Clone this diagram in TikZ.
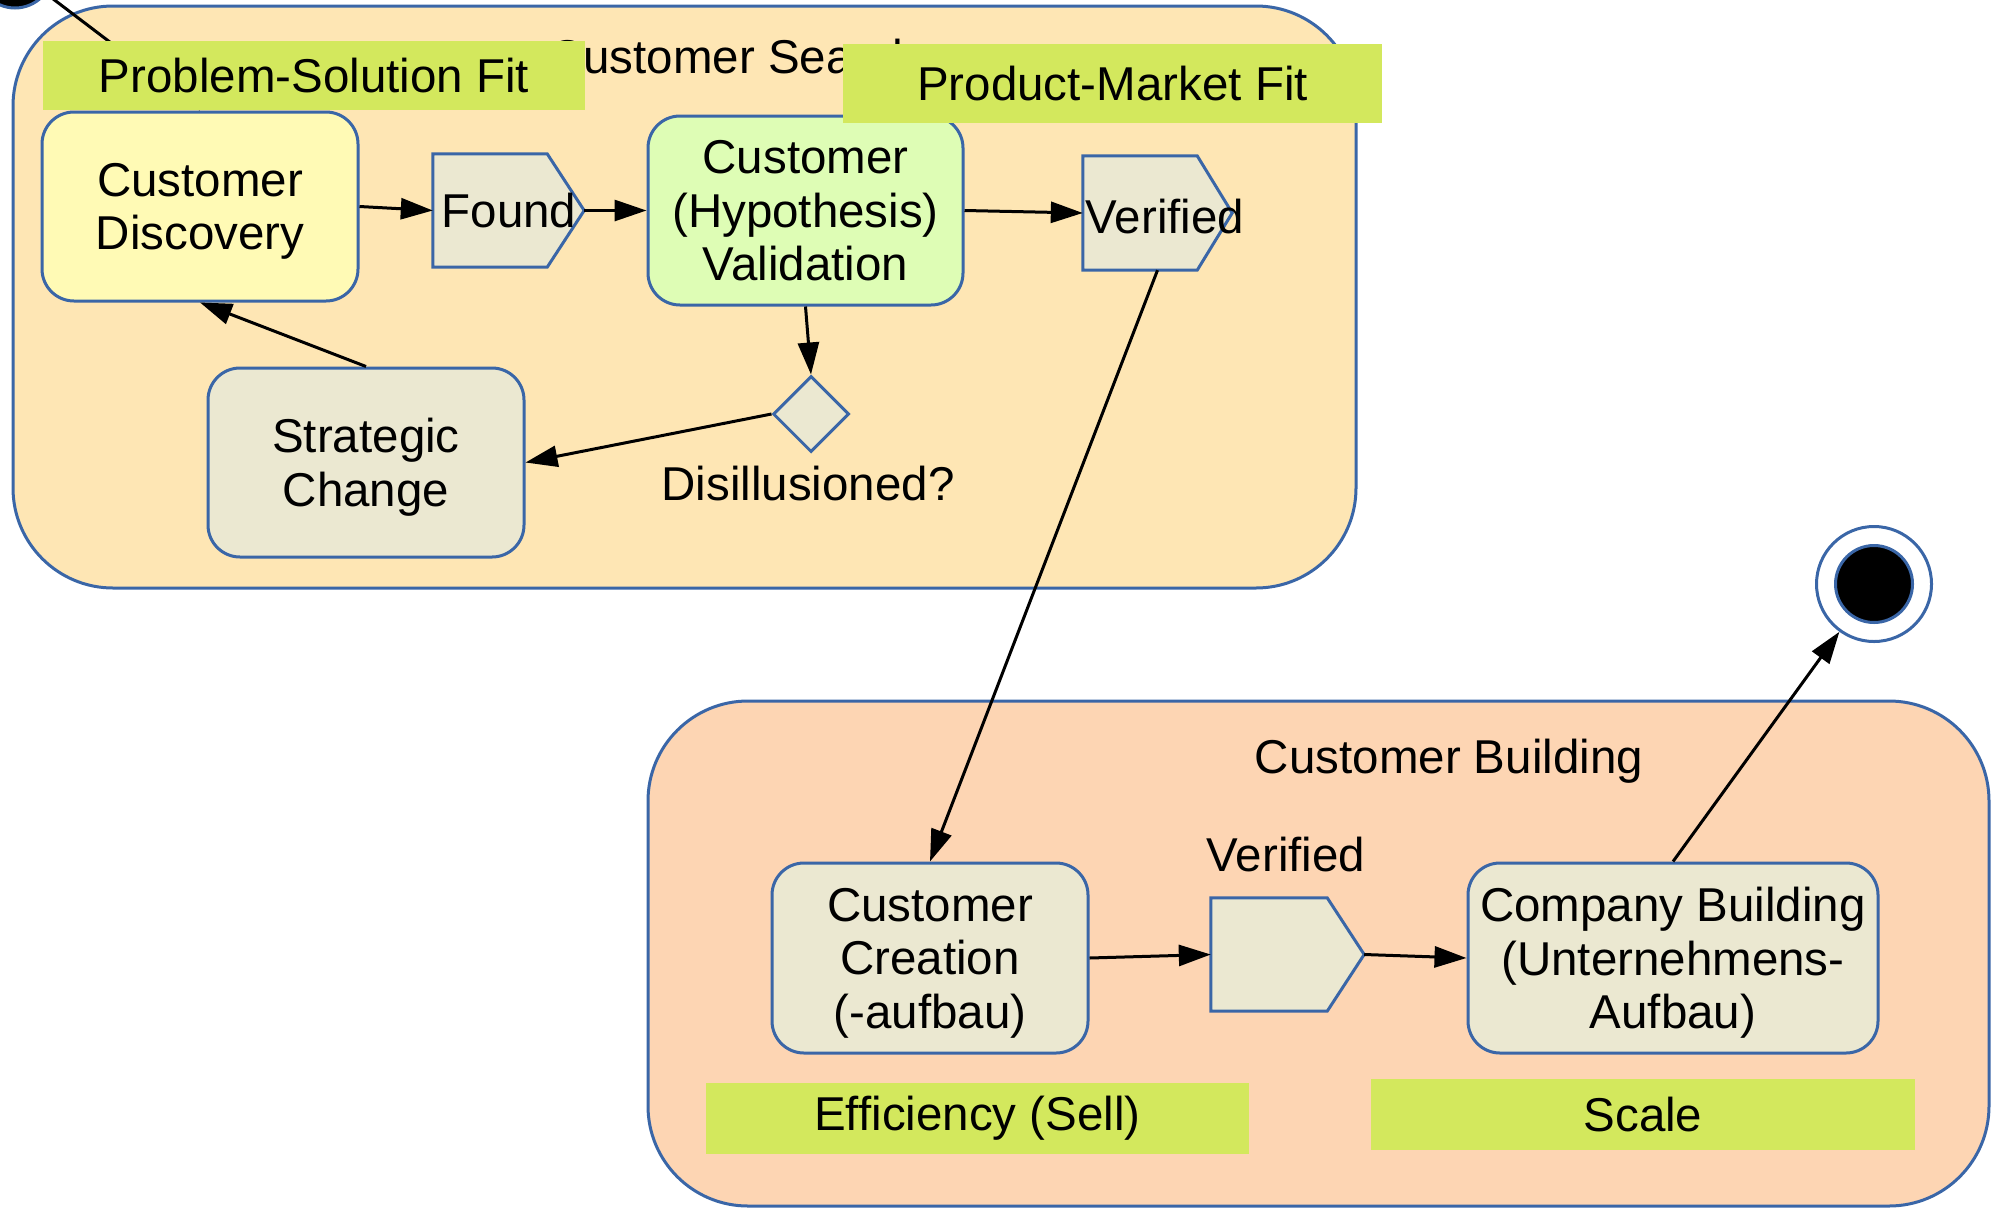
\documentclass[tikz,border=0pt]{standalone}
\usepackage{fontspec}
\setmainfont{Liberation Sans}
\usetikzlibrary{arrows.meta,shapes.geometric}

\definecolor{searchfill}{RGB}{254,230,180}
\definecolor{buildfill}{RGB}{253,213,179}
\definecolor{edgeblue}{RGB}{58,102,167}
\definecolor{limefill}{RGB}{211,232,93}
\definecolor{greyfill}{RGB}{235,232,209}
\definecolor{yellowfill}{RGB}{255,250,181}
\definecolor{greenfill}{RGB}{222,253,181}

\newcommand\diagfont{\fontsize{47.5}{53.5}\selectfont}

\tikzset{
  group/.style={draw=edgeblue, line width=3pt, rounded corners=100pt, inner sep=0pt},
  activity/.style={draw=edgeblue, line width=3pt, rounded corners=32pt, align=center,
    font=\diagfont, inner sep=0pt, text depth=0pt, minimum width=316pt, minimum height=189pt},
  slot/.style={inner sep=0pt},
  pentagon/.style={draw=edgeblue, line width=3pt, fill=greyfill, line join=miter},
  fitlabel/.style={fill=limefill, font=\diagfont, inner sep=0pt},
  plain/.style={font=\diagfont, inner sep=0pt},
  flow/.style={line width=3pt, -{Triangle[length=32pt,width=21pt]}},
}

\begin{document}
\begin{tikzpicture}[x=1pt, y=-1pt]
\useasboundingbox (0,0) rectangle (1991,1208);

% composite states
\node[group, fill=searchfill, minimum width=1343pt, minimum height=582pt] (search) at (684.5,297) {};
\node[group, fill=buildfill, minimum width=1341pt, minimum height=505pt] (building) at (1318.5,953.5) {};
\node[plain] (searchtitle) at (734,57) {Customer Search};
\node[plain] (buildtitle) at (1449,761) {Customer Building};

% initial and final states
\node[circle, draw=edgeblue, line width=3pt, fill=black, minimum size=76pt, inner sep=0pt] (start) at (15,-30) {};
\node[circle, draw=edgeblue, line width=3pt, fill=white, minimum size=115pt, inner sep=0pt] (final) at (1874,584) {};
\node[circle, draw=edgeblue, line width=3pt, fill=black, minimum size=77pt, inner sep=0pt] (finaldot) at (1874,584) {};

% activities of the search phase
\node[activity, fill=yellowfill] (disc) at (200,206.5) {Customer\\Discovery};
\node[activity, fill=greenfill, minimum width=315pt] (valid) at (805.5,210.5) {Customer\\(Hypothesis)\\Validation};
\node[activity, fill=greyfill] (strat) at (366,462.5) {Strategic\\Change};
\node[diamond, draw=edgeblue, line width=3pt, fill=greyfill, minimum width=76pt, minimum height=76pt, inner sep=0pt, aspect=1] (decide) at (811,414) {};
\node[plain] (decidelabel) at (808,484) {Disillusioned?};

% signal states of the search phase
\node[slot, minimum width=151pt, minimum height=113pt] (found) at (508.5,210.5) {};
\draw[pentagon] (found.north west) -- ([xshift=-37pt]found.north east) -- (found.east)
  -- ([xshift=-37pt]found.south east) -- (found.south west) -- cycle;
\node[plain] (foundtext) at (509,211) {Found};

\node[slot, minimum width=149pt, minimum height=114pt] (verif) at (1157.5,213) {};
\draw[pentagon] (verif.north west) -- ([xshift=-35pt]verif.north east) -- (verif.east)
  -- ([xshift=-35pt]verif.south east) -- (verif.south west) -- cycle;
\node[plain] (veriftext) at (1165,217) {Verified};

% activities of the building phase
\node[activity, fill=greyfill, minimum height=190pt] (create) at (930,958) {Customer\\Creation\\(-aufbau)};
\node[activity, fill=greyfill, minimum width=410pt, minimum height=190pt] (company) at (1673,958) {Company Building\\(Unternehmens-\\Aufbau)};

\node[slot, minimum width=153pt, minimum height=113pt] (verif2) at (1287.5,954.5) {};
\draw[pentagon] (verif2.north west) -- ([xshift=-37pt]verif2.north east) -- (verif2.east)
  -- ([xshift=-37pt]verif2.south east) -- (verif2.south west) -- cycle;
\node[plain] (verif2text) at (1286,855) {Verified};

% transitions
\draw[flow] (start) -- (disc.north);
\draw[flow] (disc.east) -- (found.west);
\draw[flow] (found.east) -- (valid.west);
\draw[flow] (valid.east) -- (verif.west);
\draw[flow] (valid.south) -- (decide.north);
\draw[flow] (decide.west) -- (strat.east);
\draw[flow] (strat.north) -- (disc.south);
\draw[flow] (verif.south) -- (create.north);
\draw[flow] (create.east) -- (verif2.west);
\draw[flow] (verif2.east) -- (company.west);
\draw[flow] (company.north) -- (final);

% phase labels
\node[fitlabel, minimum width=542pt, minimum height=69pt] (psfit) at (314,75.5) {Problem-Solution Fit};
\node[fitlabel, minimum width=539pt, minimum height=79pt] (pmfit) at (1112.5,83.5) {Product-Market Fit};
\node[fitlabel, minimum width=543pt, minimum height=71pt] (effic) at (977.5,1118.5) {Efficiency (Sell)};
\node[fitlabel, minimum width=544pt, minimum height=71pt] (scale) at (1643,1114.5) {Scale};
\end{tikzpicture}
\end{document}
